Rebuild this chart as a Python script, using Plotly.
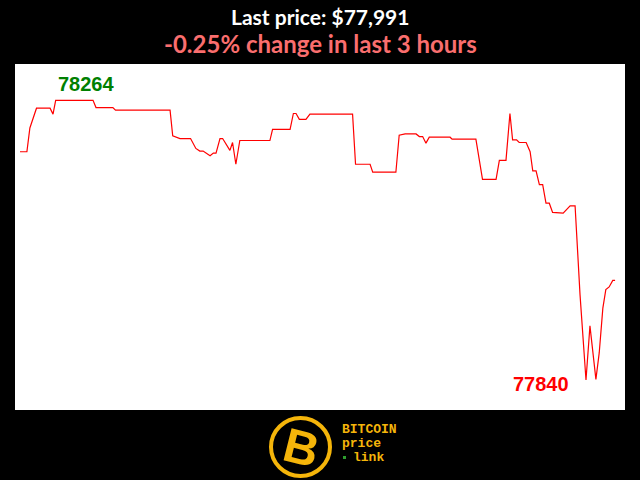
import plotly.graph_objects as go

# ---- data (minutes into the 3-hour window, BTC price in USD) ----
minutes = [0, 2.1, 3.0, 3.9, 5.0, 9.1, 10.0, 10.8, 22.1, 23.0, 28.1, 28.9, 45.4, 46.2,
           48.4, 51.6, 53.2, 54.4, 55.4, 57.5, 58.5, 59.3, 60.5, 61.3, 63.5, 64.3, 65.3,
           66.5, 75.6, 76.4, 81.7, 82.7, 83.5, 84.5, 86.5, 87.7, 100.6, 101.5, 105.9,
           106.7, 113.7, 114.7, 116.5, 119.8, 120.8, 121.8, 122.8, 123.8, 130.1, 130.7,
           137.9, 139.9, 144.0, 145.0, 147.0, 148.2, 149.0, 150.2, 151.0, 153.1, 154.3,
           155.1, 156.1, 157.1, 158.1, 159.1, 160.1, 161.1, 163.5, 164.3, 166.4, 167.9,
           169.4, 171.2, 172.4, 174.2, 175.2, 176.3, 177.2, 178.2, 179.3, 180.0]
prices = [78186, 78186, 78222, 78237, 78252, 78252, 78243, 78264, 78264, 78253, 78253,
          78249, 78249, 78210, 78206, 78206, 78191, 78187, 78187, 78180, 78184, 78184,
          78206, 78206, 78188, 78200, 78167, 78203, 78203, 78220, 78220, 78244, 78244,
          78235, 78235, 78243, 78243, 78167, 78167, 78155, 78155, 78211, 78213, 78213,
          78209, 78209, 78199, 78208, 78208, 78205, 78205, 78144, 78144, 78173, 78173,
          78244, 78204, 78204, 78200, 78200, 78186, 78157, 78157, 78136, 78136, 78108,
          78108, 78094, 78094, 78093, 78104, 78104, 77969, 77840, 77922, 77841, 77881,
          77949, 77977, 77981, 77991, 77991]
last_price = 77991
change_pct = -0.25
window_hours = 3

# ---- layout helpers (pixel -> paper) ----
X0, X1, Y0, Y1 = 15, 625, 64, 410
def pxx(x):
    return (x - X0) / (X1 - X0)
def pxy(y):
    return (Y1 - y) / (Y1 - Y0)

GOLD = "#f5b50a"

fig = go.Figure(go.Scatter(x=minutes, y=prices, mode="lines",
                           line=dict(color="#ff0000", width=1.2), hoverinfo="skip"))

fig.update_layout(
    width=640, height=480,
    margin=dict(l=15, r=15, t=64, b=70),
    paper_bgcolor="black", plot_bgcolor="white", showlegend=False,
    xaxis=dict(visible=False, range=[-1.5, 183.0], fixedrange=True),
    yaxis=dict(visible=False, range=[77794.5, 78319], fixedrange=True),
)

title_font = "Lato, Roboto, sans-serif"
anns = [
    dict(text=f"<b>Last price: ${last_price:,}</b>", xref="paper", yref="paper",
         x=pxx(320), y=pxy(17), xanchor="center", yanchor="middle", showarrow=False,
         font=dict(family=title_font, size=21, color="white")),
    dict(text=f"<b>{change_pct:.2f}% change in last {window_hours} hours</b>", xref="paper", yref="paper",
         x=pxx(320), y=pxy(43), xanchor="center", yanchor="middle", showarrow=False,
         font=dict(family=title_font, size=24, color="#fa6e6e")),
]

imax = prices.index(max(prices))
imin = prices.index(min(prices))
anns.append(dict(text=f"<b>{prices[imax]}</b>", x=minutes[imax], y=prices[imax],
                 xanchor="left", yanchor="bottom", xshift=0, yshift=3, showarrow=False,
                 font=dict(family="Liberation Sans, Arial", size=20, color="#008000")))
anns.append(dict(text=f"<b>{prices[imin]}</b>", x=minutes[imin], y=prices[imin],
                 xanchor="right", yanchor="middle", xshift=-15, yshift=-4, showarrow=False,
                 font=dict(family="Liberation Sans, Arial", size=20, color="#ff0000")))

# ---- logo ----
anns.append(dict(text="<b>B</b>", xref="paper", yref="paper", x=pxx(301), y=pxy(447),
                 xanchor="center", yanchor="middle", showarrow=False, textangle=14,
                 font=dict(family="Liberation Sans, Arial", size=48, color=GOLD)))
mono = "Liberation Mono, DejaVu Sans Mono, monospace"
for txt, xx, yy in [("BITCOIN", 340, 429), ("price", 340, 443), ("link", 351, 457)]:
    anns.append(dict(text=f"<b>{txt}</b>", xref="paper", yref="paper",
                     x=pxx(xx), y=pxy(yy), xanchor="left", yanchor="middle",
                     showarrow=False, font=dict(family=mono, size=13, color=GOLD)))

shapes = [
    dict(type="circle", xref="paper", yref="paper",
         x0=pxx(271), x1=pxx(330), y0=pxy(476), y1=pxy(418),
         line=dict(color=GOLD, width=4), fillcolor="black"),
    dict(type="rect", xref="paper", yref="paper",
         x0=pxx(343), x1=pxx(346), y0=pxy(459), y1=pxy(456),
         line=dict(width=0), fillcolor="#2e9e2e"),
]

fig.update_layout(annotations=anns, shapes=shapes)
fig.write_html("out.html", config={"displayModeBar": False},
               post_script="document.body.style.margin='0';document.body.style.background='black';")
